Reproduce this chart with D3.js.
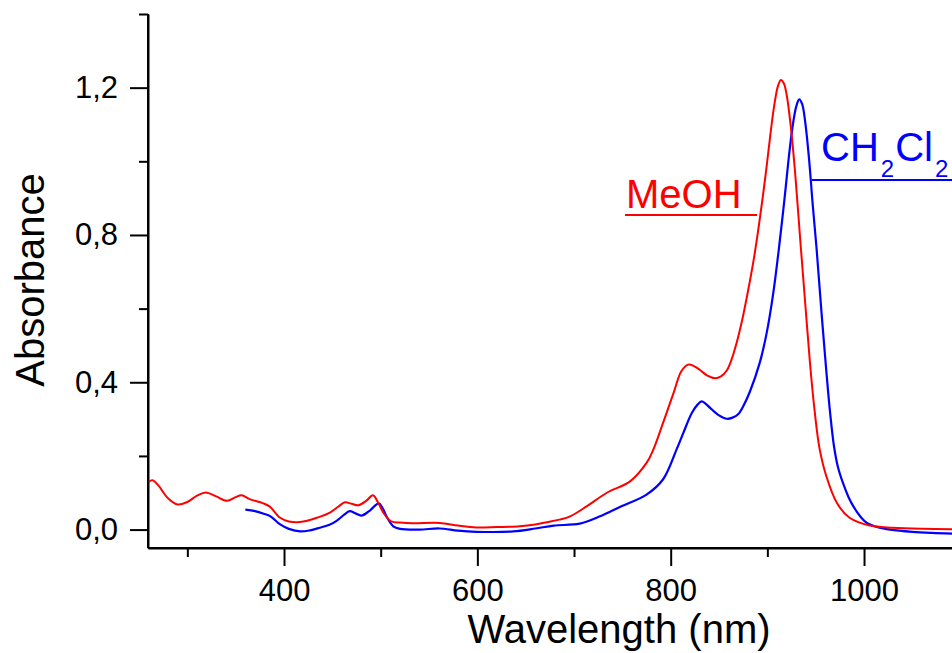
<!DOCTYPE html>
<html><head><meta charset="utf-8">
<script src="https://cdn.jsdelivr.net/npm/d3@7"></script>
<style>body{margin:0;background:#fff}svg{display:block}text{font-family:"Liberation Sans",Arial,sans-serif}</style>
</head><body><svg id="c" width="952" height="653"></svg>
<script>
// MeOH spectrum (wavelength nm, absorbance)
const meohWl = [260,264,270,280,290,300,310,319,330,341,350,356,365,378,385,396,405,414,424,434,448,456,463,470,477,485,492,497,503,511,520,533,561,580,599,620,644,660,672,685,696,713,734,758,775,782,792,803,811,818,824,830,838,846,852,858,863,868,874,880,886,892,898,903,907,911,914,917,920,924,929,934,939,944,949,954,961,972,985,1006,1030,1060,1091];
const meohAbs = [0.130,0.134,0.120,0.085,0.068,0.075,0.092,0.101,0.090,0.078,0.088,0.093,0.082,0.072,0.063,0.032,0.022,0.020,0.024,0.032,0.047,0.062,0.074,0.070,0.066,0.078,0.093,0.075,0.045,0.022,0.019,0.017,0.018,0.011,0.006,0.007,0.009,0.014,0.020,0.027,0.036,0.063,0.100,0.131,0.181,0.217,0.289,0.371,0.430,0.448,0.444,0.434,0.418,0.411,0.416,0.432,0.462,0.505,0.570,0.648,0.735,0.840,0.960,1.070,1.150,1.205,1.221,1.212,1.180,1.100,0.960,0.787,0.620,0.455,0.320,0.220,0.145,0.072,0.032,0.011,0.005,0.002,0.001];
// CH2Cl2 spectrum
const dcmWl = [360,370,379,386,396,405,417,427,437,447,454,462,468,474,480,488,498,502,506,513,520,540,561,580,599,637,660,679,706,727,748,775,792,806,813,822,828,832,836,841,850,858,864,870,876,882,892,899,906,913,918,923,927,930,933,936,939,943,947,951,956,961,965,969,973,978,984,989,996,1003,1015,1027,1050,1070,1091];
const dcmAbs = [0.054,0.050,0.043,0.036,0.014,0.002,-0.005,-0.002,0.005,0.013,0.023,0.040,0.050,0.044,0.038,0.050,0.071,0.058,0.036,0.009,0.002,0.000,0.003,-0.003,-0.006,-0.005,0.003,0.011,0.016,0.036,0.062,0.095,0.136,0.217,0.262,0.317,0.340,0.348,0.342,0.330,0.310,0.301,0.304,0.314,0.340,0.375,0.452,0.530,0.640,0.787,0.905,1.030,1.110,1.150,1.168,1.155,1.110,1.010,0.880,0.760,0.590,0.430,0.315,0.225,0.170,0.128,0.088,0.063,0.036,0.018,0.006,0.000,-0.006,-0.009,-0.011];
const xMajor = [400,600,800,1000];
const xMinor = [300,500,700,900];
const yMajor = [0,0.4,0.8,1.2];
const yMinor = [0.2,0.6,1.0,1.4];

const svg = d3.select("#c");
const L=148, R=952, T=14, B=548;
const x = d3.scaleLinear().domain([259.3,1091]).range([L,R]);
const y = d3.scaleLinear().domain([-0.05,1.4]).range([B,T]);
const fmt = v => d3.format(".1f")(v).replace(".",",");

svg.append("clipPath").attr("id","clip").append("rect")
  .attr("x",L).attr("y",T-5).attr("width",R-L).attr("height",B-T+5);

function drawAxis(g){ g.selectAll("path,line").attr("stroke","#000").attr("stroke-width",2); g.selectAll("text").attr("fill","#000"); }

// minor ticks
svg.append("g").attr("transform",`translate(0,${B})`)
  .call(d3.axisBottom(x).tickValues(xMinor).tickSize(9).tickFormat("").tickSizeOuter(0))
  .call(drawAxis);
svg.append("g").attr("transform",`translate(${L},0)`)
  .call(d3.axisLeft(y).tickValues(yMinor).tickSize(9).tickFormat("").tickSizeOuter(0))
  .call(drawAxis);
// major ticks
const gx = svg.append("g").attr("transform",`translate(0,${B})`)
  .call(d3.axisBottom(x).tickValues(xMajor).tickSize(18).tickPadding(13).tickFormat(d3.format("d")).tickSizeOuter(0))
  .call(drawAxis);
gx.selectAll("text").style("font-size","31px");
const gy = svg.append("g").attr("transform",`translate(${L},0)`)
  .call(d3.axisLeft(y).tickValues(yMajor).tickSize(18).tickPadding(12).tickFormat(fmt).tickSizeOuter(0))
  .call(drawAxis);
gy.selectAll("text").style("font-size","31px");
gx.select(".domain").attr("d",`M${L},0H${R}`);
gy.select(".domain").attr("d",`M0,${T}V${B}`);

const line = d3.line().x(d=>x(d[0])).y(d=>y(d[1])).curve(d3.curveCatmullRom.alpha(0.5));
const plot = svg.append("g").attr("clip-path","url(#clip)");
plot.append("path").datum(dcmWl.map((w,i)=>[w,dcmAbs[i]]))
  .attr("d",line).attr("fill","none").attr("stroke","#0000ff").attr("stroke-width",2.2);
plot.append("path").datum(meohWl.map((w,i)=>[w,meohAbs[i]]))
  .attr("d",line).attr("fill","none").attr("stroke","#ff0000").attr("stroke-width",2);

// axis titles
svg.append("text").attr("x",619).attr("y",643).attr("text-anchor","middle")
  .style("font-size","40px").text("Wavelength (nm)");
svg.append("text").attr("transform","translate(44,280) rotate(-90)").attr("text-anchor","middle")
  .style("font-size","40px").text("Absorbance");

// labels
svg.append("text").attr("x",626).attr("y",208).attr("fill","#ff0000").style("font-size","40px").text("MeOH");
svg.append("line").attr("x1",625).attr("x2",757).attr("y1",215).attr("y2",215).attr("stroke","#ff0000").attr("stroke-width",2);
const t2 = svg.append("text").attr("x",821).attr("y",161).attr("fill","#0000ff").style("font-size","40px");
t2.append("tspan").text("CH");
t2.append("tspan").attr("dx",2).attr("dy",16).style("font-size","24px").text("2");
t2.append("tspan").attr("dx",1).attr("dy",-16).text("Cl");
t2.append("tspan").attr("dx",2).attr("dy",16).style("font-size","24px").text("2");
svg.append("line").attr("x1",812).attr("x2",952).attr("y1",180).attr("y2",180).attr("stroke","#0000ff").attr("stroke-width",2);
</script></body></html>
